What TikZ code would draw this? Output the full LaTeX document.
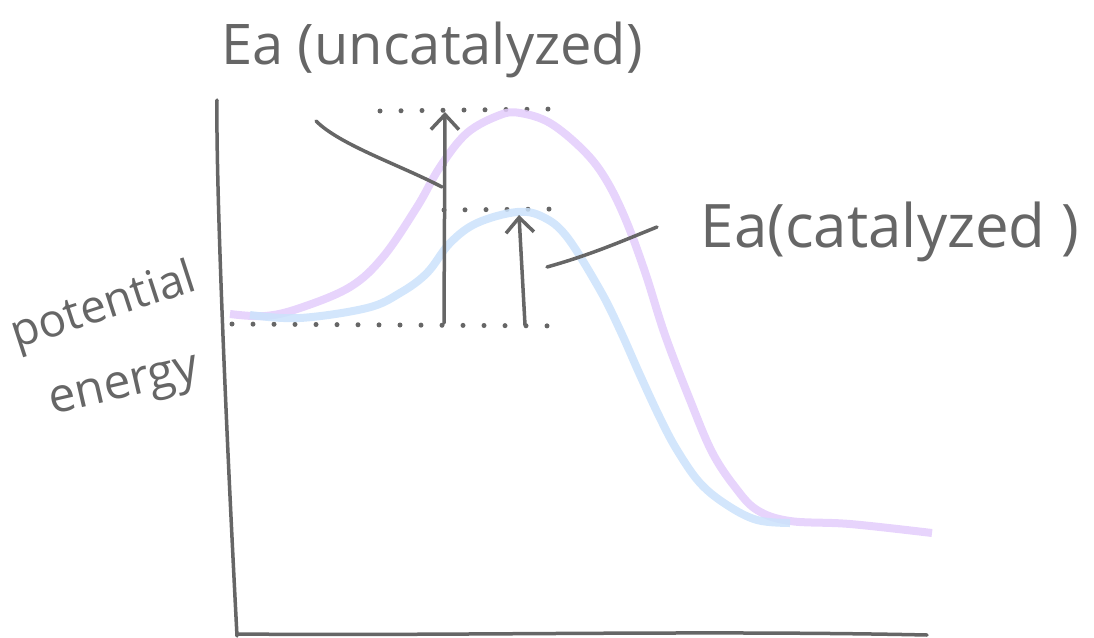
\documentclass[tikz,border=0pt]{standalone}
\usepackage{fontspec}
\setmainfont{Open Sans}
\usepackage{tikz}
\usetikzlibrary{arrows.meta}
\usetikzlibrary{positioning}

\definecolor{pencil}{HTML}{666666}
\definecolor{lilac}{HTML}{E3CCFB}
\definecolor{skyblue}{HTML}{CBE2FB}

\begin{document}
\begin{tikzpicture}[x=1pt, y=-1pt,
		ink/.style = {draw=pencil, line width=3.5pt, line cap=round, line join=round},
		marker/.style = {line width=8pt, opacity=0.85},
		dots/.style = {draw=pencil, line width=5pt, line cap=round, dash pattern=on 0pt off 21pt},
		hand/.style = {text=pencil, inner sep=0pt},
		barb/.style = {-{Straight Barb[length=15pt,width=28pt]}}]
		\useasboundingbox (0,0) rectangle (1094,637);
		
		% axes
		\draw[ink] (217,100) .. controls (216,160) and (222,350) .. (237,636);
		\draw[ink] (237,634) .. controls (450,636) and (700,630) .. (927,635);
		
		% dotted levels
		\coordinate (topL) at (380,111);
		\coordinate (topR) at (552,109);
		\coordinate (midL) at (444,210);
		\coordinate (midR) at (558,209);
		\coordinate (lowL) at (232,324);
		\coordinate (lowR) at (566,326);
		\draw[dots] (topL) -- (topR);
		\draw[dots] (midL) -- (midR);
		\draw[dots] (lowL) -- (lowR);
		
		% the two curves
		\draw[marker, lilac] plot[smooth, tension=0.6] coordinates {
			(230,314) (265,316) (300,308) (350,287) (383,257) (417,207) (440,167)
			(467,133) (500,115) (520,113) (550,123) (583,150) (605,178) (625,218)
			(645,272) (665,335) (690,400) (712,452) (735,487) (757,510) (790,521)
			(850,524) (932,533)};
		\draw[marker, skyblue] plot[smooth, tension=0.6] coordinates {
			(250,315) (300,318) (367,308) (400,293) (427,273) (450,243) (477,223)
			(517,212) (543,217) (567,237) (600,290) (620,330) (640,375) (660,418)
			(677,450) (700,483) (727,505) (757,520) (790,523)};
		
		% activation energies
		\coordinate (unBase) at (444,323);
		\coordinate (unTip) at (445,112);
		\coordinate (caBase) at (525,325);
		\coordinate (caTip) at (519,215);
		\draw[ink, barb] (unBase) -- (unTip);
		\draw[ink, barb] (caBase) -- (caTip);
		
		% labels
		\node[hand, font=\fontsize{56}{60}\selectfont] (uncat) at (432,50) {Ea (uncatalyzed)};
		\node[hand, font=\fontsize{60}{64}\selectfont] (cat) at (890,232) {Ea(catalyzed )};
		\node[hand, font=\fontsize{46}{50}\selectfont, rotate=18] (pot) at (104,308) {potential};
		\node[hand, font=\fontsize{48}{52}\selectfont, rotate=13] (ener) at (125,390) {energy};
		
		% leaders
		\coordinate (unFoot) at (442,187);
		\coordinate (unHead) at (316,121);
		\coordinate (caFoot) at (547,267);
		\coordinate (caHead) at (657,227);
		\draw[ink] (unHead) .. controls (340,145) and (400,165) .. (unFoot);
		\draw[ink] (caFoot) .. controls (590,255) and (620,242) .. (caHead);
	\end{tikzpicture}
\end{document}
